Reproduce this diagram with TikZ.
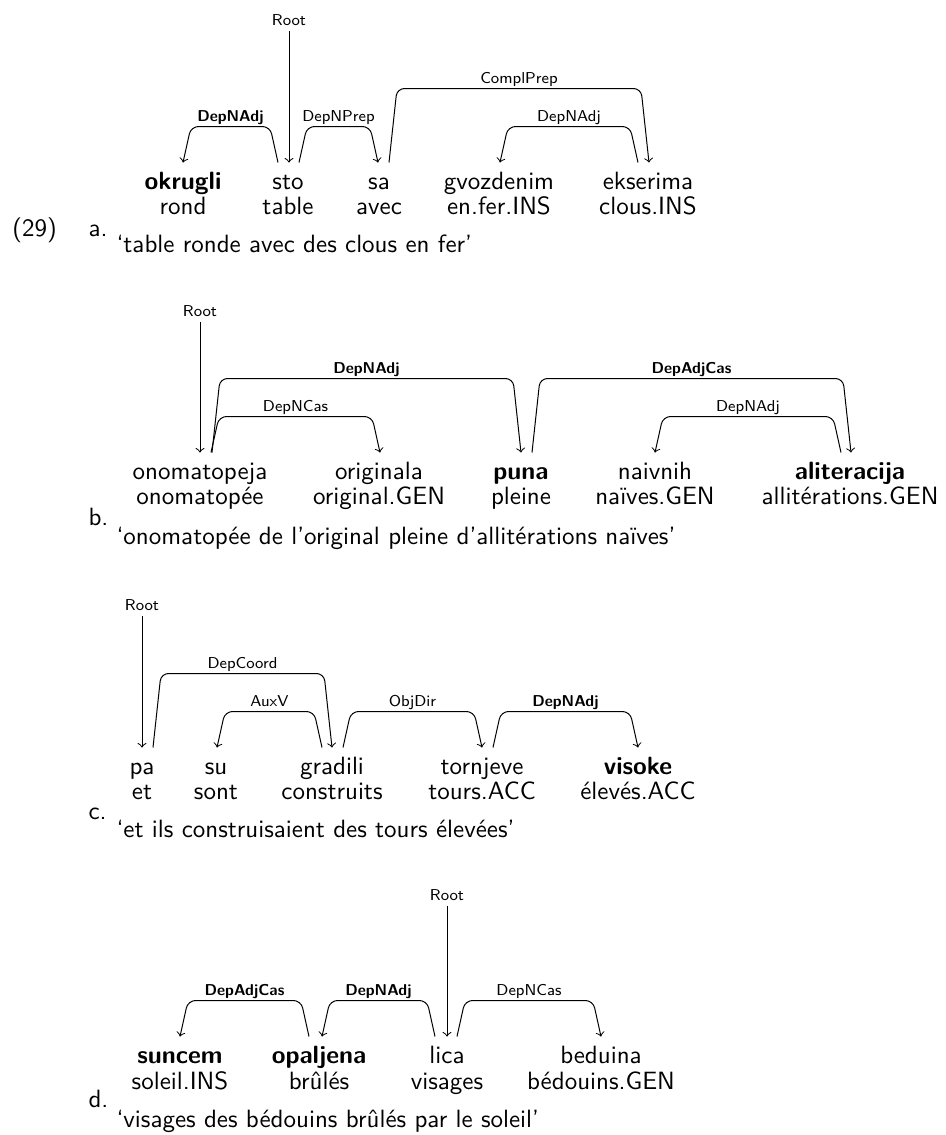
\documentclass[tikz,border=0pt]{standalone}
\usepackage{fontspec}
\usetikzlibrary{calc}
\tikzset{
  wd/.style={font=\sffamily\fontsize{10}{12}\selectfont, inner sep=0pt, text height=7pt, text depth=2pt, anchor=base},
  bw/.style={wd, font=\sffamily\bfseries\fontsize{10}{12}\selectfont},
  lab/.style={font=\sffamily\fontsize{6.3}{7.5}\selectfont, inner sep=0pt, anchor=base},
  blab/.style={lab, font=\sffamily\bfseries\fontsize{6.3}{7.5}\selectfont},
  arc/.style={->, rounded corners=3pt, line width=0.4pt},
  txt/.style={font=\sffamily\fontsize{10}{12}\selectfont, inner sep=0pt, anchor=base west},
}
% #1 from node, #2 dx, #3 to node, #4 dx, #5 signed slant, #6 height, #7 label, #8 label style, #9 label name
\newcommand\darc[9]{%
  \draw[arc] ($(#1.north)+(#2,-8.5)$) -- ++(#5,-#6) -- ($(#3.north)+({#4-(#5)},{-8.5-#6})$) -- ($(#3.north)+(#4,-8.5)$);
  \path ($(#1.north)+(#2,{-8.5-#6})$) -- ($(#3.north)+(#4,{-8.5-#6})$) node[midway,#8,anchor=base,yshift=1.9pt] (#9) {#7};
}
\begin{document}
\begin{tikzpicture}[x=0.4pt,y=-0.4pt]
\useasboundingbox (0,0) rectangle (946,1135);
% ---------- (29) a.
\node[txt] (num) at (12,236) {(29)};
\node[txt] (la) at (88,236) {a.};
\node[bw] (ok) at (183,189) {okrugli};
\node[wd] (okG) at (183,214) {rond};
\node[wd] (sto) at (288,189) {sto};
\node[wd] (stoG) at (288,214) {table};
\node[wd] (sa) at (379,189) {sa};
\node[wd] (saG) at (379,214) {avec};
\node[wd] (gv) at (499,189) {gvozdenim};
\node[wd] (gvG) at (499,214) {en.fer.INS};
\node[wd] (ek) at (648,189) {ekserima};
\node[wd] (ekG) at (648,214) {clous.INS};
\node[txt] (ta) at (116,252) {‘table ronde avec des clous en fer’};
\node[lab] (rootA) at (289,25.5) {Root};
\draw[arc] ($(rootA.base)+(0,5.5)$) -- ($(sto.north)+(1,-8.5)$);
\darc{sto}{-10}{ok}{0}{-8}{36}{DepNAdj}{blab}{la1}
\darc{sto}{11}{sa}{-1}{8}{36}{DepNPrep}{lab}{la2}
\darc{sa}{10}{ek}{1}{8}{74}{ComplPrep}{lab}{la3}
\darc{ek}{-10}{gv}{1}{-8}{36}{DepNAdj}{lab}{la4}
% ---------- b.
\node[txt] (lb) at (88,525) {b.};
\node[wd] (on) at (200,479) {onomatopeja};
\node[wd] (onG) at (200,504) {onomatopée};
\node[wd] (or) at (379,479) {originala};
\node[wd] (orG) at (379,504) {original.GEN};
\node[bw] (pu) at (521,479) {puna};
\node[wd] (puG) at (521,504) {pleine};
\node[wd] (na) at (655,479) {naivnih};
\node[wd] (naG) at (655,504) {naïves.GEN};
\node[bw] (al) at (850,479) {aliteracija};
\node[wd] (alG) at (850,504) {allitérations.GEN};
\node[txt] (tb) at (116,544) {‘onomatopée de l’original pleine d’allitérations naïves’};
\node[lab] (rootB) at (200,316.5) {Root};
\draw[arc] ($(rootB.base)+(0,5.5)$) -- ($(on.north)+(0,-8.5)$);
\darc{on}{11}{or}{1}{8}{36}{DepNCas}{lab}{lb1}
\darc{on}{12}{pu}{0}{8}{74}{DepNAdj}{blab}{lb2}
\darc{pu}{11}{al}{1}{8}{74}{DepAdjCas}{blab}{lb3}
\darc{al}{-9}{na}{0}{-8}{36}{DepNAdj}{lab}{lb4}
% ---------- c.
\node[txt] (lc) at (88,819) {c.};
\node[wd] (pa) at (142,774) {pa};
\node[wd] (paG) at (142,799) {et};
\node[wd] (su) at (216,774) {su};
\node[wd] (suG) at (216,799) {sont};
\node[wd] (gr) at (332,774) {gradili};
\node[wd] (grG) at (332,799) {construits};
\node[wd] (to) at (482,774) {tornjeve};
\node[wd] (toG) at (482,799) {tours.ACC};
\node[bw] (vi) at (638,774) {visoke};
\node[wd] (viG) at (638,799) {élevés.ACC};
\node[txt] (tc) at (116,837) {‘et ils construisaient des tours élevées’};
\node[lab] (rootC) at (142,610.5) {Root};
\draw[arc] ($(rootC.base)+(0,5.5)$) -- ($(pa.north)+(0,-8.5)$);
\darc{pa}{11}{gr}{0}{8}{74}{DepCoord}{lab}{lc1}
\darc{gr}{-10}{su}{1}{-8}{36}{AuxV}{lab}{lc2}
\darc{gr}{11}{to}{0}{8}{36}{ObjDir}{lab}{lc3}
\darc{to}{11}{vi}{0}{8}{36}{DepNAdj}{blab}{lc4}
% ---------- d.
\node[txt] (ld) at (88,1107) {d.};
\node[bw] (sc) at (180,1063) {suncem};
\node[wd] (scG) at (180,1089) {soleil.INS};
\node[bw] (op) at (319,1063) {opaljena};
\node[wd] (opG) at (319,1089) {brûlés};
\node[wd] (li) at (447,1063) {lica};
\node[wd] (liG) at (447,1089) {visages};
\node[wd] (be) at (601,1063) {beduina};
\node[wd] (beG) at (601,1089) {bédouins.GEN};
\node[txt] (td) at (116,1127) {‘visages des bédouins brûlés par le soleil’};
\node[lab] (rootD) at (447,900.5) {Root};
\draw[arc] ($(rootD.base)+(0,5.5)$) -- ($(li.north)+(0,-8.5)$);
\darc{op}{-10}{sc}{0}{-8}{36}{DepAdjCas}{blab}{ld1}
\darc{li}{-12}{op}{3}{-8}{36}{DepNAdj}{blab}{ld2}
\darc{li}{10}{be}{0}{8}{36}{DepNCas}{lab}{ld3}
\end{tikzpicture}
\end{document}
